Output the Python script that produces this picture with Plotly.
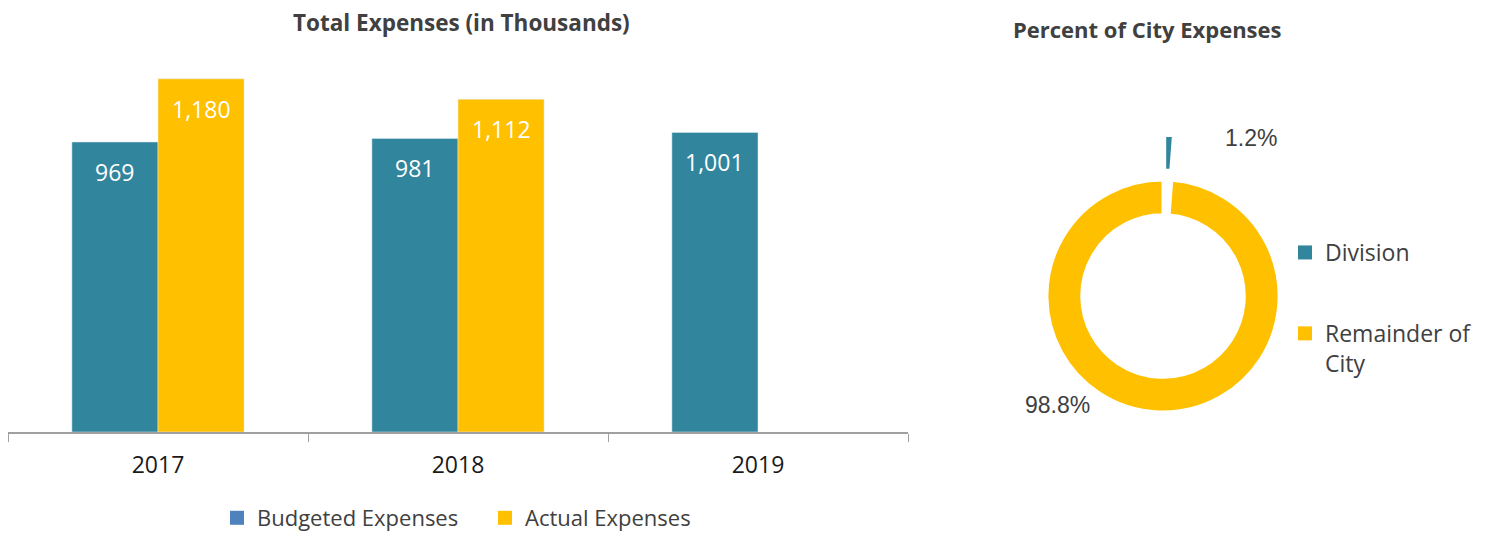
import plotly.graph_objects as go

years = ["2017", "2018", "2019"]
budgeted = [969, 981, 1001]
actual = [1180, 1112, None]

pie_labels = ["Division", "Remainder of<br>City"]
pie_values = [1.2, 98.8]

TEAL = "#31859C"
YELLOW = "#FFC000"
LEGEND_BLUE = "#4F81BD"
TXT = "#404040"
FONT = "Open Sans, Lato, sans-serif"
W, H = 1487, 533

BW = 0.287

fig = go.Figure()
fig.add_trace(go.Bar(x=years, y=budgeted, marker_color=TEAL, width=BW, offset=-BW,
                     showlegend=False, hoverinfo="y"))
fig.add_trace(go.Bar(x=years, y=actual, marker_color=YELLOW, width=BW, offset=0,
                     showlegend=False, hoverinfo="y"))
# bar legend entries
fig.add_trace(go.Scatter(x=[None], y=[None], mode="markers", name="Budgeted Expenses",
                         marker=dict(symbol="square", size=14, color=LEGEND_BLUE)))
fig.add_trace(go.Scatter(x=[None], y=[None], mode="markers", name="Actual Expenses",
                         marker=dict(symbol="square", size=14, color=YELLOW)))

# data labels inside bars
for series, off in ((budgeted, -BW / 2), (actual, BW / 2)):
    for i, v in enumerate(series):
        if v is None:
            continue
        fig.add_annotation(x=i + off, y=v, xref="x", yref="y", text=f"{v:,}",
                           showarrow=False, yshift=-30, xanchor="center", yanchor="middle",
                           font=dict(family=FONT, size=23, color="white"))

pie_colors = [TEAL, YELLOW]
fig.add_trace(go.Pie(labels=pie_labels, values=pie_values, hole=0.70, sort=False,
                     direction="clockwise", rotation=0, pull=[0.385, 0],
                     marker=dict(colors=pie_colors, line=dict(color="white", width=3)),
                     textinfo="none", showlegend=False,
                     domain=dict(x=[1002.25 / W, 1323.75 / W],
                                 y=[(H - 456.75) / H, (H - 135.25) / H])))
# pie legend entries
for i, (lab, col) in enumerate(zip(pie_labels, pie_colors)):
    fig.add_trace(go.Scatter(x=[None], y=[None], mode="markers", name=lab,
                             legend="legend2", legendgroup=f"p{i}",
                             marker=dict(symbol="square", size=14, color=col)))

# percent labels
total = sum(pie_values)
fig.add_annotation(x=1251 / W, y=(H - 138) / H, xref="paper", yref="paper",
                   xanchor="center", yanchor="middle",
                   text=f"{pie_values[0] / total * 100:.1f}%", showarrow=False,
                   font=dict(family="Liberation Sans, Arial", size=23, color=TXT))
fig.add_annotation(x=1057 / W, y=(H - 405) / H, xref="paper", yref="paper",
                   xanchor="center", yanchor="middle",
                   text=f"{pie_values[1] / total * 100:.1f}%", showarrow=False,
                   font=dict(family="Liberation Sans, Arial", size=23, color=TXT))

# titles
fig.add_annotation(x=461 / W, y=(H - 22) / H, xref="paper", yref="paper",
                   xanchor="center", yanchor="middle",
                   text="<b>Total Expenses (in Thousands)</b>", showarrow=False,
                   font=dict(family=FONT, size=22.5, color=TXT))
fig.add_annotation(x=1147 / W, y=(H - 29) / H, xref="paper", yref="paper",
                   xanchor="center", yanchor="middle",
                   text="<b>Percent of City Expenses</b>", showarrow=False,
                   font=dict(family=FONT, size=22, color=TXT))

fig.update_layout(
    width=W, height=H,
    margin=dict(l=0, r=0, t=0, b=0, autoexpand=False),
    paper_bgcolor="white", plot_bgcolor="white",
    barmode="overlay",
    xaxis=dict(domain=[8 / W, 908 / W], type="category", showgrid=False,
               showline=True, linecolor="#A0A0A0", linewidth=1.5,
               ticks="outside", tickson="boundaries", ticklen=8, tickcolor="#A0A0A0",
               tickfont=dict(family=FONT, size=23, color="#1a1a1a"),
               ticklabelstandoff=12, fixedrange=True),
    yaxis=dict(domain=[(H - 432) / H, (H - 13) / H], range=[0, 1400], visible=False,
               showgrid=False, zeroline=False, fixedrange=True),
    legend=dict(orientation="h", x=485 / W, xanchor="center", y=-6 / H, yanchor="bottom",
                font=dict(family=FONT, size=22, color=TXT), bgcolor="rgba(0,0,0,0)",
                itemwidth=30, entrywidth=223),
    legend2=dict(x=1285 / W, xanchor="left", y=(H - 231) / H, yanchor="top", valign="top",
                 font=dict(family=FONT, size=23, color=TXT), bgcolor="rgba(0,0,0,0)",
                 tracegroupgap=48),
)

fig.write_html("out.html")
